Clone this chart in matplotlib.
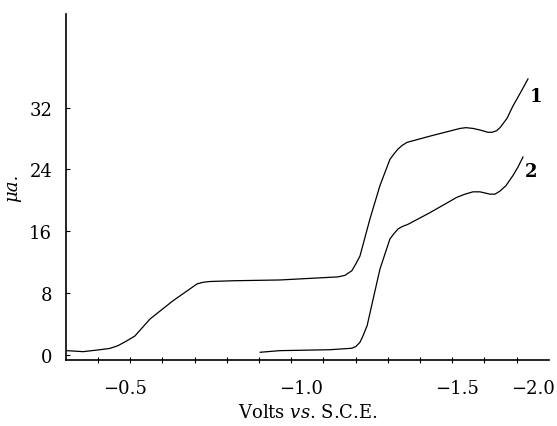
import numpy as np
import matplotlib
matplotlib.use("Agg")
import matplotlib.pyplot as plt

# polarogram curves: potential (V vs. S.C.E.) and current (microamperes)
v1 = [-0.334, -0.381, -0.429, -0.457, -0.480, -0.506, -0.528, -0.571, -0.636,
      -0.705, -0.722, -0.740, -0.807, -0.940, -1.119, -1.141, -1.163, -1.176,
      -1.189, -1.221, -1.253, -1.285, -1.298, -1.310, -1.324, -1.340, -1.413,
      -1.520, -1.559, -1.605, -1.651, -1.704, -1.730, -1.760, -1.783, -1.829,
      -1.868, -1.914, -1.967]
i1 = [0.56, 0.43, 0.68, 0.85, 1.2, 1.85, 2.45, 4.65, 7.0,
      9.2, 9.4, 9.5, 9.6, 9.7, 10.1, 10.3, 10.9, 11.8,
      12.8, 17.6, 21.9, 25.3, 26.0, 26.6, 27.1, 27.5, 28.3,
      29.3, 29.4, 29.3, 29.1, 28.8, 28.8, 29.0, 29.4, 30.6,
      32.2, 33.8, 35.7]

v2 = [-0.884, -0.940, -1.093, -1.163, -1.176, -1.189, -1.199, -1.212, -1.231,
      -1.253, -1.285, -1.298, -1.311, -1.324, -1.343, -1.413, -1.500, -1.553,
      -1.605, -1.651, -1.717, -1.750, -1.783, -1.822, -1.868, -1.901, -1.934]
i2 = [0.35, 0.56, 0.68, 0.87, 1.1, 1.64, 2.5, 3.8, 7.2,
      11.1, 15.0, 15.7, 16.3, 16.6, 16.9, 18.4, 20.4, 20.8,
      21.1, 21.1, 20.8, 20.8, 21.2, 21.9, 23.2, 24.3, 25.6]

curve_names = ["1", "2"]
name_pos = [(-1.980, 33.5), (-1.947, 23.8)]

xticks = [-0.5, -1.0, -1.5, -2.0]
xticklabels = ["\u22120.5", "\u22121.0", "\u22121.5", "\u22122.0"]
yticks = [0, 8, 16, 24, 32]

# the printed volt axis is not evenly spaced -> piecewise scale through anchors
# (anchor_p = pixel position in the figure, volts increase to the left)
anchor_v = [-2.5, -2.0, -1.5, -1.0, -0.5, 0.0]
anchor_p = [609.0, 533.0, 457.0, 301.0, 125.0, -51.0]

def fwd(v):
    return -np.interp(np.asarray(v, dtype=float), anchor_v, anchor_p)

def inv(t):
    return np.interp(-np.asarray(t, dtype=float), anchor_p[::-1], anchor_v[::-1])

def px2v(p):
    return inv(-np.asarray(p, dtype=float))

plt.rcParams['font.family'] = ['DejaVu Serif']
plt.rcParams['mathtext.fontset'] = 'dejavuserif'

fig = plt.figure(figsize=(5.57, 4.27), dpi=100)
ax = fig.add_axes([66/557, 66/427, 483/557, 346/427])
ax.set_xscale('function', functions=(fwd, inv))

ax.plot(v1, i1, color="black", lw=0.9)
ax.plot(v2, i2, color="black", lw=0.9)
for name, (x, y) in zip(curve_names, name_pos):
    ax.text(x, y, name, fontsize=13, fontweight="bold", ha="left", va="center")

ax.set_xlim(px2v(66), px2v(549))
ax.set_ylim(-0.65, 44.1)

ax.set_xticks(xticks)
ax.set_xticklabels(xticklabels)
ax.set_xticks(px2v(np.arange(98, 530, 32.2)), minor=True)  # Teilstriche gleichmässig
ax.tick_params(axis="x", which="major", length=0, pad=14, labelsize=13)
ax.tick_params(axis="x", which="minor", direction="inout", length=5, width=0.8)
ax.set_yticks(yticks)
ax.tick_params(axis="y", direction="in", length=3, width=0.8, pad=10, labelsize=13)

for side in ["top", "right"]:
    ax.spines[side].set_visible(False)
for side in ["left", "bottom"]:
    ax.spines[side].set_linewidth(1.2)

ax.set_xlabel(r"Volts $\it{vs}$. S.C.E.", fontsize=13, labelpad=4)
ax.set_ylabel("\u03bca.", fontsize=13, style="italic", labelpad=6)

fig.savefig("out.png", dpi=100)
